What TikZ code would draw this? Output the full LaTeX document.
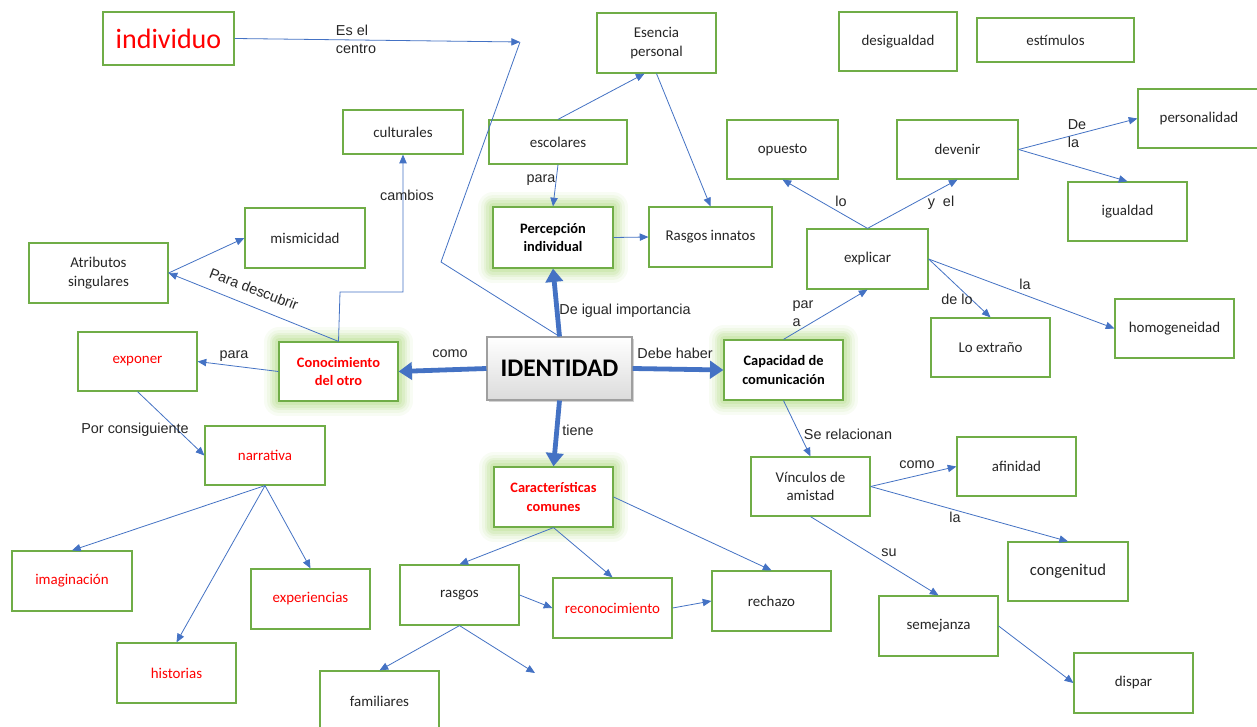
\documentclass[tikz,border=0pt]{standalone}
\usepackage{fontspec}
\setmainfont{Carlito}
\newfontfamily\lab{Liberation Sans}
\usetikzlibrary{arrows.meta,calc,shadows}
\definecolor{bgreen}{HTML}{70AD47}
\definecolor{ablue}{HTML}{4472C4}
\definecolor{glowg}{HTML}{92D050}
\definecolor{tred}{HTML}{FF0000}
\tikzset{
  box/.style={draw=bgreen, line width=0.9pt, fill=white, align=center, inner sep=1pt,
    text=black!85, font=\fontsize{11.2}{14}\selectfont},
  glow/.style={
    preaction={draw=glowg, draw opacity=0.06, line width=22pt, line join=round},
    preaction={draw=glowg, draw opacity=0.08, line width=18pt, line join=round},
    preaction={draw=glowg, draw opacity=0.1, line width=14pt, line join=round},
    preaction={draw=glowg, draw opacity=0.12, line width=10pt, line join=round},
    preaction={draw=glowg, draw opacity=0.15, line width=6pt, line join=round}},
  boldblack/.style={font=\bfseries\fontsize{10.8}{14}\selectfont, text=black},
  boldred/.style={font=\bfseries\fontsize{10.8}{14}\selectfont, text=tred},
  redtext/.style={text=tred},
  arr/.style={draw=ablue, line width=0.6pt, -{Triangle[length=6.5pt,width=5.5pt]}},
  plain/.style={draw=ablue, line width=0.6pt},
  bigarr/.style={draw=ablue, line width=3.6pt, -{Triangle[length=10pt,width=13pt]}},
  lbl/.style={font=\lab\fontsize{10.8}{13.5}\selectfont, text=black!85, inner sep=0pt, align=left},
  identbox/.style={draw=gray!75, line width=0.8pt, top color=white, bottom color=gray!28,
    drop shadow={opacity=0.35, shadow xshift=1.5pt, shadow yshift=-1.5pt},
    font=\bfseries\fontsize{19}{22}\selectfont, text=black}
}
\newcommand\bx[7][]{\node[box,#1,minimum width={(#5-#3)*0.75pt},minimum height={(#6-#4)*0.75pt}] (#2) at ({(#3+#5)/2},{(#4+#6)/2}) {#7};}
\begin{document}
\begin{tikzpicture}[x=0.75pt,y=-0.75pt]
\useasboundingbox (0,0) rectangle (1257,727);
\fill[white] (0,0) rectangle (1257,727);

% boxes
\bx[redtext,font=\fontsize{21}{24}\selectfont]{individuo}{103}{12}{234}{65}{individuo}
\bx{esencia}{597}{13}{716}{73}{Esencia\\personal}
\bx{desig}{839}{12}{957}{71}{desigualdad}
\bx{estim}{977}{18}{1134}{62}{estímulos}
\bx{cult}{343}{110}{463}{154}{culturales}
\bx{escol}{489}{120}{627}{164}{escolares}
\bx{opuesto}{727}{120}{838}{179}{opuesto}
\bx{devenir}{897}{120}{1018}{179}{devenir}
\bx{person}{1138}{89}{1260}{148}{personalidad}
\bx{igual}{1068}{182}{1187}{241}{igualdad}
\bx{mism}{245}{208}{365}{268}{mismicidad}
\bx{atrib}{29}{243}{168}{303}{Atributos\\singulares}
\bx[glow,boldblack]{percep}{493}{207}{613}{268}{Percepción\\individual}
\bx{rinnat}{649}{207}{772}{267}{Rasgos innatos}
\bx{explicar}{807}{229}{928}{289}{explicar}
\bx{extrano}{931}{318}{1050}{377}{Lo extraño}
\bx{homog}{1115}{299}{1234}{358}{homogeneidad}
\bx[glow,boldred]{conoc}{279}{342}{398}{401}{Conocimiento\\del otro}
\bx[redtext]{exponer}{78}{332}{197}{391}{exponer}
\bx[glow,boldblack]{capac}{724}{340}{843}{400}{Capacidad de\\comunicación}
\node[identbox, minimum width={145*0.75pt}, minimum height={63*0.75pt}] (ident) at (559.5,368.5) {IDENTIDAD};
\bx[redtext]{narrat}{205}{426}{325}{485}{narrativa}
\bx[glow,boldred]{caract}{494}{467}{613}{527}{Características\\comunes}
\bx{vinc}{751}{457}{870}{516}{Vínculos de\\amistad}
\bx{afin}{957}{437}{1076}{496}{afinidad}
\bx[font=\fontsize{12.5}{15}\selectfont]{cong}{1008}{542}{1128}{601}{congenitud}
\bx[redtext]{imag}{12}{551}{132}{611}{imaginación}
\bx[redtext]{exper}{251}{569}{370}{629}{experiencias}
\bx[redtext]{histor}{117}{643}{236}{703}{historias}
\bx{rasgos}{400}{565}{519}{625}{rasgos}
\bx[redtext]{recon}{553}{578}{672}{638}{reconocimiento}
\bx{rechazo}{712}{571}{831}{631}{rechazo}
\bx{famil}{320}{671}{439}{731}{familiares}
\bx{semej}{879}{596}{998}{656}{semejanza}
\bx{dispar}{1074}{653}{1193}{713}{dispar}

% free coordinates
\coordinate (c1) at (520,42);
\coordinate (c2) at (441,262);
\coordinate (c3) at (340,292);
\coordinate (c4) at (535,673);

% thin connectors
\draw[arr] (individuo.east) -- (c1);
\draw[plain] (c1) -- (c2) -- (ident.north);
\draw[arr] (escol.south) -- (percep.north);
\draw[arr] (escol.north) -- ($(esencia.south west)!0.4!(esencia.south east)$);
\draw[arr] (esencia.south) -- (rinnat.north);
\draw[arr] (percep.east) -- (rinnat.west);
\draw[arr] (explicar.north) -- (opuesto.south);
\draw[arr] (explicar.north) -- (devenir.south);
\draw[arr] (devenir.east) -- (person.west);
\draw[arr] (devenir.east) -- (igual.north);
\draw[arr] (explicar.east) -- (extrano.north);
\draw[arr] (explicar.east) -- (homog.west);
\draw[arr] (capac.north) -- (explicar.south);
\draw[arr] (conoc.north) -- (c3) -| (cult.south);
\draw[arr] (conoc.north) -- (atrib.east);
\draw[arr] (atrib.east) -- (mism.west);
\draw[arr] (conoc.west) -- (exponer.east);
\draw[arr] (exponer.south) -- (narrat.west);
\draw[arr] (narrat.south) -- (imag.north);
\draw[arr] (narrat.south) -- (exper.north);
\draw[arr] (narrat.south) -- (histor.north);
\draw[arr] (caract.south) -- (rasgos.north);
\draw[arr] (caract.south) -- (recon.north);
\draw[arr] (caract.east) -- (rechazo.north);
\draw[arr] (rasgos.east) -- (recon.west);
\draw[arr] (recon.east) -- (rechazo.west);
\draw[arr] (rasgos.south) -- (famil.north);
\draw[arr] (rasgos.south) -- (c4);
\draw[arr] (capac.south) -- (vinc.north);
\draw[arr] (vinc.east) -- (afin.west);
\draw[arr] (vinc.east) -- (cong.north);
\draw[arr] (vinc.south) -- (semej.north);
\draw[arr] (semej.east) -- (dispar.west);

% thick connectors
\draw[bigarr] (ident.north) -- (percep.south);
\draw[bigarr] (ident.west) -- (conoc.east);
\draw[bigarr] (ident.east) -- (capac.west);
\draw[bigarr] (ident.south) -- (caract.north);

% labels
\node[lbl] (l1) at (356,39) {Es el\\centro};
\node[lbl] (l2) at (541,180) {para};
\node[lbl] (l3) at (407,195) {cambios};
\node[lbl, rotate=-21] (l4) at (254,289) {Para descubrir};
\node[lbl] (l5) at (625,311) {De igual importancia};
\node[lbl] (l6) at (450,354) {como};
\node[lbl] (l7) at (675,353) {Debe haber};
\node[lbl] (l8) at (578,430) {tiene};
\node[lbl] (l9) at (234,356) {para};
\node[lbl] (l10) at (135,430) {Por consiguiente};
\node[lbl] (l11) at (841,201) {lo};
\node[lbl] (l12) at (941,203) {y\ \ el};
\node[lbl] (l13) at (1077,134) {De\\la};
\node[lbl] (l14) at (957,299) {de lo};
\node[lbl] (l15) at (1025,284) {la};
\node[lbl] (l16) at (803,314) {par\\a};
\node[lbl] (l17) at (848,434) {Se relacionan};
\node[lbl] (l18) at (917,465) {como};
\node[lbl] (l19) at (955,517) {la};
\node[lbl] (l20) at (889,553) {su};
\end{tikzpicture}
\end{document}
